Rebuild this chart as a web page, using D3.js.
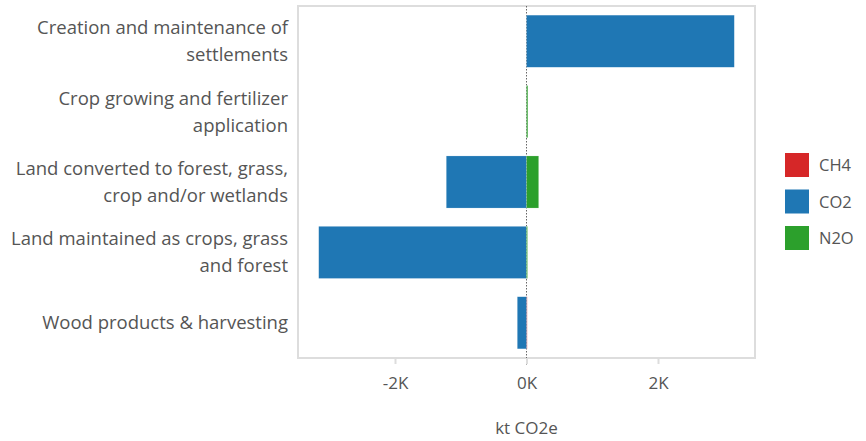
<!DOCTYPE html>
<html><head><meta charset="utf-8">
<script src="https://cdn.jsdelivr.net/npm/d3@7"></script>
<style>body{margin:0;background:#fff;} text{font-family:"Open Sans",sans-serif;}</style>
</head><body><svg id="c" width="866" height="441"></svg>
<script>
const categories = [
  ["Creation and maintenance of", "settlements"],
  ["Crop growing and fertilizer", "application"],
  ["Land converted to forest, grass,", "crop and/or wetlands"],
  ["Land maintained as crops, grass", "and forest"],
  ["Wood products & harvesting"]
];
const seriesNames = ["CH4", "CO2", "N2O"];
const ch4 = [0, 0, 0, 0, 10];
const co2 = [3160, 0, -1220, -3160, -140];
const n2o = [0, 20, 185, 15, 0];
const tickValues = [-2000, 0, 2000];
const tickLabels = ["-2K", "0K", "2K"];
const colors = ["#d62728", "#1f77b4", "#2ca02c"];

const svg = d3.select("#c");
const L = 298, R = 755, T = 6, B = 358;
const rows = categories.map((c, i) => ({key: i, CH4: ch4[i], CO2: co2[i], N2O: n2o[i]}));
const stack = d3.stack().keys(seriesNames).offset(d3.stackOffsetDiverging);
const layers = stack(rows);

const x = d3.scaleLinear().domain([-3475, 3475]).range([L, R]);
const y = d3.scaleBand().domain(d3.range(categories.length)).range([T, B]).paddingInner(0.26).paddingOuter(0.13);
const color = d3.scaleOrdinal().domain(seriesNames).range(colors);

// frame
svg.append("rect").attr("x", L).attr("y", T).attr("width", R - L).attr("height", B - T)
  .attr("fill", "none").attr("stroke", "#ddd").attr("stroke-width", 2);

// zero line (under bars)
svg.append("line").attr("x1", x(0)).attr("x2", x(0)).attr("y1", T).attr("y2", B + 8)
  .attr("stroke", "#666").attr("stroke-width", 1).attr("stroke-dasharray", "1.5,1.5");

// bars
svg.append("g").selectAll("g").data(layers).join("g")
  .attr("fill", d => color(d.key))
  .selectAll("rect").data(d => d).join("rect")
  .attr("x", d => x(Math.min(d[0], d[1])))
  .attr("width", d => Math.abs(x(d[1]) - x(d[0])))
  .attr("y", (d, i) => y(i))
  .attr("height", y.bandwidth())
  .attr("stroke", "rgba(255,255,255,0.35)").attr("stroke-width", 0.5);

// x axis
const xAxis = d3.axisBottom(x).tickValues(tickValues).tickFormat((d, i) => tickLabels[i]).tickSize(6).tickPadding(13);
const gx = svg.append("g").attr("transform", `translate(0,${B})`).call(xAxis);
gx.select(".domain").remove();
gx.selectAll(".tick line").attr("stroke", "#ddd").attr("stroke-width", 2);
gx.selectAll(".tick text").attr("fill", "#555").style("font-size", "17px").style("font-family", "'Open Sans',sans-serif");

svg.append("text").attr("x", x(0)).attr("y", 434).attr("text-anchor", "middle")
  .attr("fill", "#555").style("font-size", "17px").text("kt CO2e");

// y labels
const yl = svg.append("g");
categories.forEach((lines, i) => {
  const cy = y(i) + y.bandwidth() / 2;
  const lh = 27;
  const t = yl.append("text").attr("text-anchor", "end").attr("fill", "#555").style("font-size", "18.5px");
  lines.forEach((ln, j) => {
    t.append("tspan").attr("x", 288)
      .attr("y", cy + (j - (lines.length - 1) / 2) * lh + 6.5).text(ln);
  });
});

// legend
const lg = svg.append("g");
seriesNames.forEach((s, i) => {
  const yy = 153 + i * 36.5;
  lg.append("rect").attr("x", 785).attr("y", yy).attr("width", 24).attr("height", 24).attr("fill", color(s));
  lg.append("text").attr("x", 819).attr("y", yy + 18).attr("fill", "#555").style("font-size", "16.5px").text(s);
});
</script></body></html>
